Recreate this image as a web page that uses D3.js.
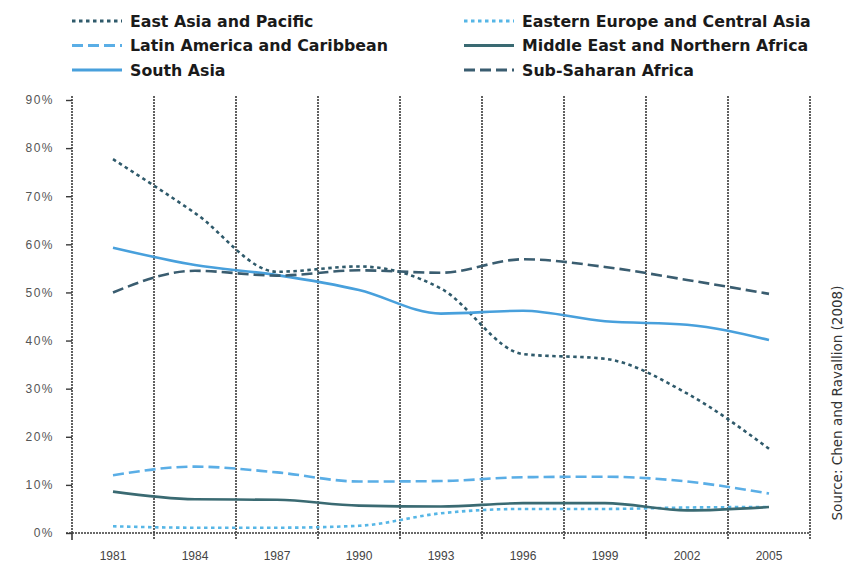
<!DOCTYPE html>
<html>
<head>
<meta charset="utf-8">
<script src="https://cdn.jsdelivr.net/npm/d3@7"></script>
<style>
  body { margin: 0; background: #fff; }
  svg { font-family: "DejaVu Sans", sans-serif; }
</style>
</head>
<body>
<div id="chart"></div>
<script>
// years on the x axis
var years = ["1981", "1984", "1987", "1990", "1993", "1996", "1999", "2002", "2005"];
var yTicks = [0, 0.1, 0.2, 0.3, 0.4, 0.5, 0.6, 0.7, 0.8, 0.9];

// share of population below poverty line (%)
var eastAsiaPacific = [77.7, 66.5, 54.3, 55.4, 50.8, 37.2, 36.2, 29.0, 17.5];
var easternEurope   = [1.4, 1.1, 1.1, 1.5, 4.1, 5.0, 5.0, 5.3, 5.4];
var latinAmerica    = [12.0, 13.8, 12.6, 10.7, 10.8, 11.6, 11.7, 10.7, 8.2];
var middleEast      = [8.6, 7.0, 6.9, 5.7, 5.5, 6.2, 6.2, 4.7, 5.4];
var southAsia       = [59.3, 55.7, 53.6, 50.5, 45.6, 46.2, 44.0, 43.3, 40.1];
var subSaharan      = [50.0, 54.5, 53.5, 54.6, 54.1, 56.9, 55.3, 52.6, 49.7];

var series = [
  {name: "East Asia and Pacific", values: eastAsiaPacific, color: "#2f5a6b", dash: "3.5,3.5", col: 0, row: 0},
  {name: "Eastern Europe and Central Asia", values: easternEurope, color: "#56b6e6", dash: "3.5,3.5", col: 1, row: 0},
  {name: "Latin America and Caribbean", values: latinAmerica, color: "#5aaee6", dash: "11,5", col: 0, row: 1},
  {name: "Middle East and Northern Africa", values: middleEast, color: "#3a6a72", dash: null, col: 1, row: 1},
  {name: "South Asia", values: southAsia, color: "#48a0dc", dash: null, col: 0, row: 2},
  {name: "Sub-Saharan Africa", values: subSaharan, color: "#3a5d70", dash: "11,5", col: 1, row: 2}
];

var margin = {top: 100, right: 40, bottom: 38, left: 72},
    width = 850 - margin.left - margin.right,
    height = 571 - margin.top - margin.bottom;

var root = d3.select("#chart").append("svg")
    .attr("width", 850)
    .attr("height", 571);

var svg = root.append("g")
    .attr("transform", "translate(" + margin.left + "," + margin.top + ")");

var x = d3.scaleBand().domain(years).range([0, width]).padding(0);
var y = d3.scaleLinear().domain([0, 0.9]).range([height, 0]);

var gridColor = "#3a3a3a";

// vertical grid lines at band edges (plus right border)
var edges = years.slice(1).map(function(d) { return x(d); }).concat([width]);
svg.selectAll(".vgrid")
  .data(edges)
  .enter().append("line")
    .attr("class", "vgrid")
    .attr("x1", function(d) { return d; })
    .attr("x2", function(d) { return d; })
    .attr("y1", -4)
    .attr("y2", height + 7)
    .style("stroke", gridColor)
    .style("stroke-width", 1.6)
    .style("stroke-dasharray", "2,1");

// x axis
var xAxis = svg.append("g")
    .attr("transform", "translate(0," + height + ")")
    .call(d3.axisBottom(x).tickSize(0).tickPadding(18));
xAxis.select(".domain")
    .attr("d", "M-6,0H" + width)
    .style("stroke", gridColor)
    .style("stroke-width", 1.6)
    .style("stroke-dasharray", "2,1");
xAxis.append("line")
    .attr("x1", 0).attr("x2", 0).attr("y1", 0).attr("y2", 7)
    .style("stroke", gridColor).style("stroke-width", 1.6);
xAxis.selectAll(".tick text")
    .style("font-size", "12px")
    .style("fill", "#444");

// y axis
var yAxis = svg.append("g")
    .call(d3.axisLeft(y).tickValues(yTicks).tickFormat(d3.format(".0%")).tickSize(6).tickPadding(12));
yAxis.select(".domain")
    .attr("d", "M0,-4V" + height)
    .style("stroke", gridColor)
    .style("stroke-width", 1.6)
    .style("stroke-dasharray", "2,1");
yAxis.selectAll(".tick line").style("stroke", gridColor).style("stroke-width", 1.4);
yAxis.selectAll(".tick text")
    .style("font-size", "12px")
    .style("letter-spacing", "1.5px")
    .style("fill", "#555");

// the lines
var line = d3.line()
    .x(function(d, i) { return x(years[i]) + x.bandwidth() / 2; })
    .y(function(d) { return y(d / 100); })
    .curve(d3.curveMonotoneX);

svg.selectAll(".series")
  .data(series)
  .enter().append("path")
    .attr("class", "series")
    .attr("d", function(d) { return line(d.values); })
    .style("fill", "none")
    .style("stroke", function(d) { return d.color; })
    .style("stroke-width", 2.6)
    .style("stroke-dasharray", function(d) { return d.dash; });

// legend
var legend = root.append("g");
var items = legend.selectAll(".item")
  .data(series)
  .enter().append("g")
    .attr("class", "item")
    .attr("transform", function(d) {
      return "translate(" + (d.col ? 464 : 72) + "," + (21 + d.row * 24.5) + ")";
    });
items.append("line")
    .attr("x1", 0).attr("x2", 50)
    .style("stroke", function(d) { return d.color; })
    .style("stroke-width", 2.8)
    .style("stroke-dasharray", function(d) { return d.dash; });
items.append("text")
    .attr("x", 58)
    .attr("dy", "0.35em")
    .style("font-size", "15.8px")
    .style("font-weight", "bold")
    .style("fill", "#1a1a1a")
    .text(function(d) { return d.name; });

// source note
root.append("text")
    .attr("transform", "translate(842,403) rotate(-90)")
    .attr("text-anchor", "middle")
    .style("font-size", "13.5px")
    .style("fill", "#333")
    .text("Source: Chen and Ravallion (2008)");
</script>
</body>
</html>
